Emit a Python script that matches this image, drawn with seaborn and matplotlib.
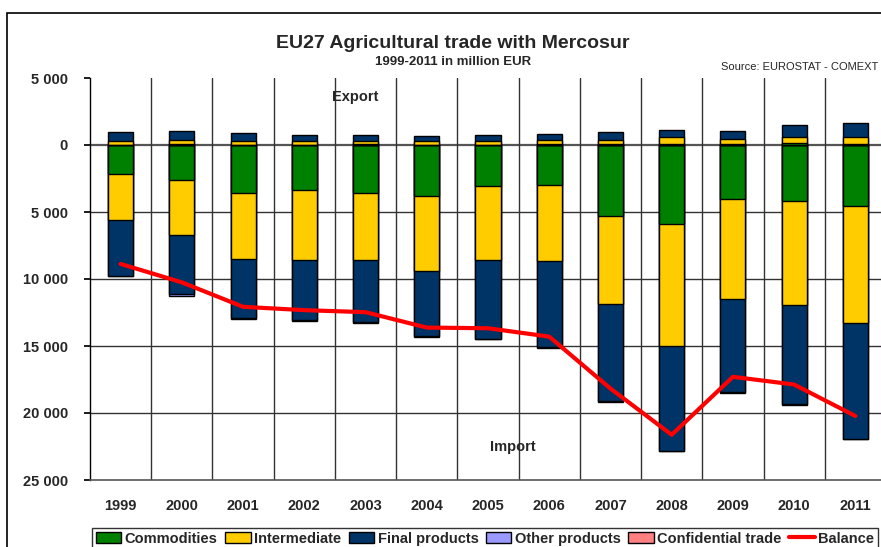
import numpy as np
import pandas as pd
import matplotlib
matplotlib.use("Agg")
import matplotlib.pyplot as plt
from matplotlib.patches import Patch, Rectangle
from matplotlib.lines import Line2D
import seaborn as sns

years = ["1999", "2000", "2001", "2002", "2003", "2004", "2005",
         "2006", "2007", "2008", "2009", "2010", "2011"]

# exports (million EUR)
exp_commodities = [30, 40, 30, 30, 50, 30, 30, 40, 40, 60, 60, 120, 60]
exp_intermediate = [250, 300, 270, 250, 250, 250, 250, 300, 370, 500, 400, 500, 520]
exp_final = [680, 730, 620, 440, 420, 390, 440, 480, 535, 560, 610, 850, 1090]

# imports (million EUR, shown below zero)
imp_commodities = [2200, 2575, 3550, 3350, 3550, 3800, 3075, 2950, 5300, 5925, 4050, 4200, 4550]
imp_intermediate = [3425, 4175, 4950, 5200, 5025, 5625, 5500, 5675, 6575, 9050, 7425, 7775, 8750]
imp_final = [4125, 4375, 4375, 4500, 4600, 4850, 5875, 6475, 7250, 7825, 6950, 7375, 8625]
imp_other = [50, 175, 125, 50, 75, 75, 50, 50, 50, 50, 50, 50, 50]

balance = [-8875, -10250, -12075, -12325, -12475, -13625, -13675,
           -14300, -18175, -21625, -17300, -17875, -20225]

c_comm = "#008000"
c_int = "#FFCC00"
c_fin = "#003366"
c_oth = "#9999FF"
c_conf = "#FF8080"

e1 = np.array(exp_commodities)
e2 = e1 + np.array(exp_intermediate)
e3 = e2 + np.array(exp_final)
i1 = -np.array(imp_commodities)
i2 = i1 - np.array(imp_intermediate)
i3 = i2 - np.array(imp_final)
i4 = i3 - np.array(imp_other)

sns.set_theme(style="white")
plt.rcParams["font.family"] = ["Liberation Sans", "DejaVu Sans"]

fig = plt.figure(figsize=(8.81, 5.47), dpi=100)
ax = fig.add_axes([90 / 881, 1 - 480 / 547, 796 / 881, 402 / 547])

# grid lines first
for v in [0, -5000, -10000, -15000, -20000]:
    ax.axhline(v, color="#333333" if v else "#555555", lw=1.0 if v else 1.6, zorder=0)
for b in np.arange(0.5, 12.5, 1):
    ax.axvline(b, color="#333333", lw=1.0, zorder=0)

kw = dict(width=0.41, edgecolor="black", linewidth=1.0, zorder=2)
# stacked bars drawn as overlapping cumulative totals
for vals, col in [(i4, c_oth), (i3, c_fin), (i2, c_int), (i1, c_comm),
                  (e3, c_fin), (e2, c_int), (e1, c_comm)]:
    sns.barplot(x=years, y=vals, color=col, ax=ax, saturation=1, **kw)

sns.lineplot(x=np.arange(len(years)), y=balance, color="#FF0000", lw=3, ax=ax, zorder=3)

ax.set_xlim(-0.5, 12.5)
ax.set_ylim(-25000, 5000)
ticks = [5000, 0, -5000, -10000, -15000, -20000, -25000]
ax.set_yticks(ticks)
ax.set_yticklabels([f"{abs(t):,}".replace(",", " ") for t in ticks],
                   fontsize=10.5, fontweight="bold")
ax.set_xticks(range(len(years)))
ax.set_xticklabels(years, fontsize=10.5, fontweight="bold")
ax.tick_params(axis="x", length=0, pad=14)
ax.tick_params(axis="y", length=4, left=True, pad=12, color="black")
ax.set_xlabel("")
ax.set_ylabel("")
for s in ["top", "right"]:
    ax.spines[s].set_visible(False)
ax.spines["left"].set_color("black")
ax.spines["bottom"].set_color("#555555")
ax.spines["bottom"].set_linewidth(1.2)
ax.spines["left"].set_linewidth(1.0)

ax.text(3.83, 3580, "Export", ha="center", va="center", fontsize=10.5, fontweight="bold")
ax.text(6.41, -22540, "Import", ha="center", va="center", fontsize=10.5, fontweight="bold")

fig.text(0.514, 1 - 43 / 547, "EU27 Agricultural trade with Mercosur",
         ha="center", va="center", fontsize=14, fontweight="bold")
fig.text(0.514, 1 - 62 / 547, "1999-2011 in million EUR",
         ha="center", va="center", fontsize=9.5, fontweight="bold")
fig.text(0.997, 1 - 67 / 547, "Source: EUROSTAT - COMEXT",
         ha="right", va="center", fontsize=8)

# outer chart frame
fig.patches.append(Rectangle((7 / 881, -0.2), 1.2, 1.2 - 13 / 547,
                             transform=fig.transFigure, fill=False,
                             edgecolor="black", lw=1.2))

handles = [Patch(facecolor=c_comm, edgecolor="black", label="Commodities"),
           Patch(facecolor=c_int, edgecolor="black", label="Intermediate"),
           Patch(facecolor=c_fin, edgecolor="black", label="Final products"),
           Patch(facecolor=c_oth, edgecolor="black", label="Other products"),
           Patch(facecolor=c_conf, edgecolor="black", label="Confidential trade"),
           Line2D([0], [0], color="#FF0000", lw=3, label="Balance")]
leg = fig.legend(handles=handles, loc="upper left", bbox_to_anchor=(92 / 881, 1 - 528 / 547),
                 ncol=6, frameon=True, fancybox=False, edgecolor="black",
                 prop={"weight": "bold", "size": 10.5}, handlelength=1.75,
                 handleheight=0.8, handletextpad=0.25, columnspacing=0.5,
                 borderpad=0.25, borderaxespad=0)
leg.get_frame().set_linewidth(1.0)

fig.savefig("out.png", dpi=100)
